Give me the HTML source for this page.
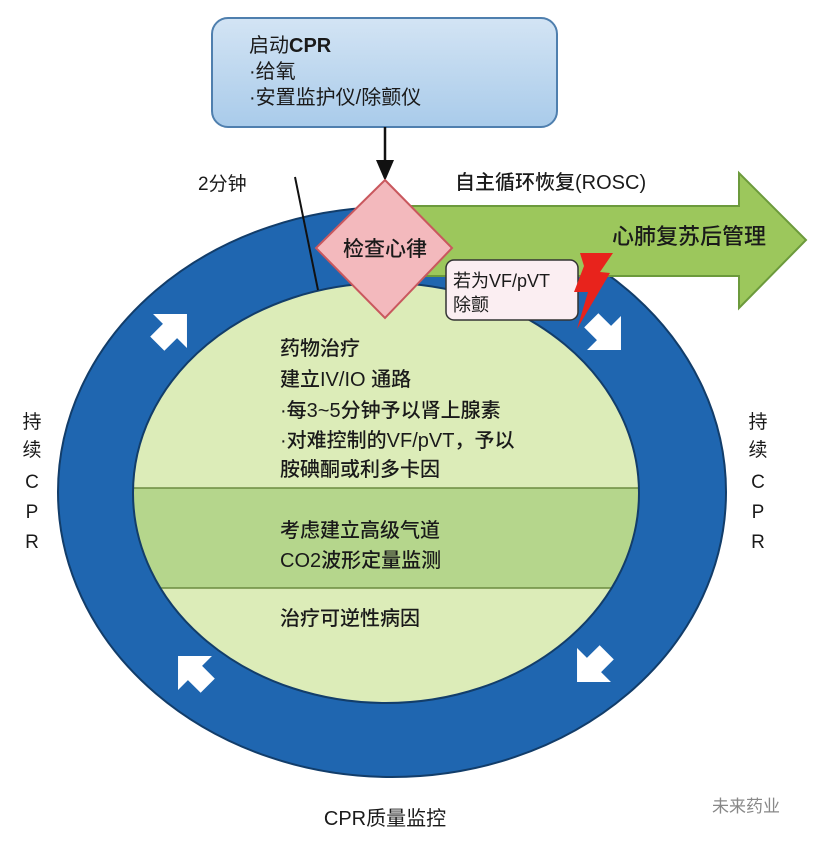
<!DOCTYPE html>
<html><head><meta charset="utf-8"><style>
html,body{margin:0;padding:0;background:#fff;}
svg text{font-family:"Liberation Sans","Noto Sans CJK SC",sans-serif;fill:#1a1a1a;}
</style></head><body>
<svg width="819" height="838" viewBox="0 0 819 838" xmlns="http://www.w3.org/2000/svg">
<defs>
<linearGradient id="bg" x1="0" y1="0" x2="0" y2="1"><stop offset="0" stop-color="#d3e4f4"/><stop offset="1" stop-color="#a9cbea"/></linearGradient>
<polygon id="wa" points="-18,-10 0,-10 0,-24 24,0 0,24 0,10 -18,10" fill="#fff"/>
</defs>
<rect x="212" y="18" width="345" height="109" rx="16" fill="url(#bg)" stroke="#4f7fae" stroke-width="2"/>
<text x="249" y="52" font-size="20">启动<tspan font-weight="bold">CPR</tspan></text>
<text x="249" y="78" font-size="20">·给氧</text>
<text x="249" y="104" font-size="20">·安置监护仪/除颤仪</text>
<line x1="385" y1="127" x2="385" y2="168" stroke="#111" stroke-width="2.5"/>
<polygon points="376,160 394,160 385,181" fill="#111"/>
<ellipse cx="392" cy="492" rx="334" ry="285" fill="#1f66b0" stroke="#123d6a" stroke-width="2"/>
<polygon points="400,206 739,206 739,173 806,240 739,308 739,276 560,276 400,276" fill="#9cc75c" stroke="#6c9a3c" stroke-width="2"/>
<clipPath id="ic"><ellipse cx="386" cy="493" rx="253" ry="210"/></clipPath>
<ellipse cx="386" cy="493" rx="253" ry="210" fill="#dcecb8"/>
<rect x="120" y="488" width="540" height="100" fill="#b5d68c" stroke="#6c8c40" stroke-width="1.5" clip-path="url(#ic)"/>
<ellipse cx="386" cy="493" rx="253" ry="210" fill="none" stroke="#123d6a" stroke-width="2"/>
<line x1="295" y1="177" x2="318" y2="290" stroke="#111" stroke-width="2"/>
<text x="198" y="190" font-size="19">2分钟</text>
<polygon points="385,180 452,248 385,318 316,248" fill="#f3b9bd" stroke="#c9585e" stroke-width="2"/>
<text x="385" y="256" font-size="21" text-anchor="middle" font-weight="500">检查心律</text>
<text x="455" y="189" font-size="20" font-weight="500">自主循环恢复(ROSC)</text>
<text x="612" y="244" font-size="22" font-weight="500">心肺复苏后管理</text>
<rect x="446" y="260" width="132" height="60" rx="8" fill="#fbeef2" stroke="#333" stroke-width="1.5"/>
<text x="453" y="287" font-size="18">若为VF/pVT</text>
<text x="453" y="311" font-size="18">除颤</text>
<polygon points="580,253 613,253 600,272 610,273 577,329 588,292 574,292 584,266" fill="#e8231c"/>
<use href="#wa" transform="translate(170,331) rotate(-45)"/>
<use href="#wa" transform="translate(604,333) rotate(45)"/>
<use href="#wa" transform="translate(594,665) rotate(135)"/>
<use href="#wa" transform="translate(195,673) rotate(-135)"/>
<g font-size="20" font-weight="500">
<text x="280" y="355">药物治疗</text>
<text x="280" y="386">建立IV/IO 通路</text>
<text x="280" y="417">·每3~5分钟予以肾上腺素</text>
<text x="280" y="447">·对难控制的VF/pVT，予以</text>
<text x="280" y="476">胺碘酮或利多卡因</text>
<text x="280" y="537">考虑建立高级气道</text>
<text x="280" y="567">CO2波形定量监测</text>
<text x="280" y="625">治疗可逆性病因</text>
</g>
<g font-size="19" text-anchor="middle">
<text x="32" y="428">持</text><text x="32" y="456">续</text><text x="32" y="488">C</text><text x="32" y="518">P</text><text x="32" y="548">R</text>
<text x="758" y="428">持</text><text x="758" y="456">续</text><text x="758" y="488">C</text><text x="758" y="518">P</text><text x="758" y="548">R</text>
</g>
<text x="385" y="825" font-size="20" text-anchor="middle">CPR质量监控</text>
<text x="712" y="812" font-size="17" style="fill:#888">未来药业</text>
</svg>
</body></html>
